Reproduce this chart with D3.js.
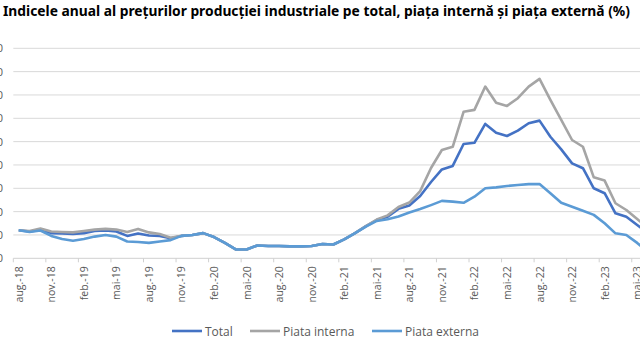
<!DOCTYPE html>
<html lang="ro">
<head>
  <meta charset="UTF-8">
  <title>Indicele anual al preturilor productiei industriale</title>
  <script src="https://d3js.org/d3.v7.min.js"></script>
  <style>
    body { margin: 0; background: #fff; }
    svg { display: block; font-family: "Open Sans", "Liberation Sans", sans-serif; }
    .grid line { stroke: #d9d9d9; stroke-width: 1; }
    .tick-label { fill: #595959; font-size: 10.5px; }
    .legend text { fill: #595959; font-size: 12px; }
    .series { fill: none; stroke-width: 2.6; stroke-linejoin: round; }
  </style>
</head>
<body>
  <svg width="640" height="360"></svg>
  <script>
    // months aug-18 .. jun-23 (last one is cut by the frame)
    const months = [
      "aug.-18","sep.-18","oct.-18","nov.-18","dec.-18",
      "ian.-19","feb.-19","mar.-19","apr.-19","mai-19","iun.-19","iul.-19","aug.-19","sep.-19","oct.-19","nov.-19","dec.-19",
      "ian.-20","feb.-20","mar.-20","apr.-20","mai-20","iun.-20","iul.-20","aug.-20","sep.-20","oct.-20","nov.-20","dec.-20",
      "ian.-21","feb.-21","mar.-21","apr.-21","mai-21","iun.-21","iul.-21","aug.-21","sep.-21","oct.-21","nov.-21","dec.-21",
      "ian.-22","feb.-22","mar.-22","apr.-22","mai-22","iun.-22","iul.-22","aug.-22","sep.-22","oct.-22","nov.-22","dec.-22",
      "ian.-23","feb.-23","mar.-23","apr.-23","mai-23","iun.-23"
    ];

    const total = [
      102.0, 101.5, 102.1, 100.8, 100.6, 100.4, 100.8, 101.7, 101.9, 101.5, 99.6, 100.6, 99.8, 99.6, 98.6, 99.6, 100.0,
      100.8, 99.1, 96.6, 93.8, 93.8, 95.5, 95.3, 95.3, 95.1, 95.1, 95.3, 96.1,
      95.9, 98.1, 100.8, 103.8, 106.4, 107.8, 111.2, 112.6, 116.7, 122.7, 128.1, 129.6,
      139.0, 139.5, 147.6, 143.8, 142.4, 144.7, 147.9, 149.0, 142.1, 136.7, 130.7, 128.6,
      120.0, 117.9, 109.3, 107.8, 104.3, 100.8
    ];

    const internal = [
      102.0, 101.7, 102.8, 101.5, 101.3, 101.1, 101.7, 102.3, 102.6, 102.3, 101.3, 102.6, 101.1, 100.4, 98.8, 99.6, 100.0,
      100.8, 99.1, 96.6, 93.8, 93.8, 95.5, 95.3, 95.3, 95.1, 95.1, 95.3, 96.1,
      95.9, 98.1, 100.8, 103.8, 106.6, 108.4, 112.0, 113.9, 118.8, 128.7, 136.4, 137.8,
      152.8, 153.6, 163.6, 156.7, 155.3, 158.6, 163.6, 166.9, 157.9, 149.3, 140.7, 137.8,
      124.7, 123.3, 113.6, 110.7, 106.8, 103.0
    ];

    const external = [
      102.0, 101.3, 101.9, 99.6, 98.3, 97.5, 98.3, 99.3, 100.0, 99.3, 97.2, 97.0, 96.6, 97.2, 97.8, 99.6, 100.0,
      100.8, 99.1, 96.6, 93.8, 93.8, 95.5, 95.3, 95.3, 95.1, 95.1, 95.3, 96.1,
      95.9, 98.1, 100.8, 103.6, 106.0, 106.7, 107.9, 109.6, 111.1, 112.8, 114.6, 114.3,
      113.8, 116.4, 120.0, 120.4, 121.0, 121.4, 121.8, 121.8, 117.9, 113.8, 112.1, 110.4,
      108.6, 105.0, 100.7, 100.0, 96.6, 92.7
    ];

    const yTicks = [90, 100, 110, 120, 130, 140, 150, 160, 170, 180];

    const series = [
      { name: "Total", values: total, color: "#4472c4" },
      { name: "Piata interna", values: internal, color: "#a5a5a5" },
      { name: "Piata externa", values: external, color: "#5b9bd5" }
    ];

    const svg = d3.select("svg");
    const plotLeft = 13.3, step = 10.85, plotBottom = 258.3, plotTop = 48.3;

    const x = d3.scaleBand()
      .domain(months)
      .range([plotLeft, plotLeft + step * months.length])
      .paddingInner(0).paddingOuter(0);
    const cx = m => x(m) + x.bandwidth() / 2;

    const y = d3.scaleLinear()
      .domain([90, 180])
      .range([plotBottom, plotTop]);

    svg.append("text")
      .attr("x", 3)
      .attr("y", 16)
      .attr("textLength", 627)
      .attr("lengthAdjust", "spacingAndGlyphs")
      .style("font-family", "'Noto Sans', sans-serif")
      .style("font-weight", "bold")
      .style("font-size", "14px")
      .style("fill", "#000")
      .text("Indicele anual al preţurilor producţiei industriale pe total, piaţa internă şi piaţa externă (%)");

    // horizontal gridlines
    svg.append("g").attr("class", "grid")
      .selectAll("line")
      .data(yTicks.slice(1))
      .join("line")
      .attr("x1", plotLeft).attr("x2", 640)
      .attr("y1", d => y(d)).attr("y2", d => y(d));

    // y labels (cut by the left edge in the original)
    svg.append("g")
      .selectAll("text")
      .data(yTicks)
      .join("text")
      .attr("class", "tick-label")
      .attr("x", 3)
      .attr("y", d => y(d) + 4)
      .attr("text-anchor", "end")
      .style("font-size", "11px")
      .text(d => d);

    // x axis
    svg.append("line")
      .attr("x1", plotLeft).attr("x2", 640)
      .attr("y1", plotBottom).attr("y2", plotBottom)
      .attr("stroke", "#d0d0d0");

    const shown = months.filter((m, i) => i % 3 === 0);

    svg.append("g")
      .selectAll("line")
      .data(shown)
      .join("line")
      .attr("x1", d => x(d)).attr("x2", d => x(d))
      .attr("y1", plotBottom).attr("y2", plotBottom + 4)
      .attr("stroke", "#d0d0d0");

    svg.append("g")
      .selectAll("text")
      .data(shown)
      .join("text")
      .attr("class", "tick-label")
      .attr("text-anchor", "end")
      .attr("transform", d => `translate(${cx(d) + 4},${plotBottom + 8}) rotate(-90)`)
      .text(d => d);

    const line = d3.line()
      .x((d, i) => cx(months[i]))
      .y(d => y(d));

    series.forEach(s => {
      svg.append("path")
        .datum(s.values)
        .attr("class", "series")
        .attr("stroke", s.color)
        .attr("d", line);
    });

    // legend
    const legendX = [172, 250, 372];
    const lg = svg.append("g").attr("class", "legend");
    series.forEach((s, i) => {
      const gx = legendX[i];
      lg.append("line")
        .attr("x1", gx).attr("x2", gx + 30)
        .attr("y1", 331).attr("y2", 331)
        .attr("stroke", s.color)
        .attr("stroke-width", 2.6);
      lg.append("text")
        .attr("x", gx + 33)
        .attr("y", 335.5)
        .text(s.name);
    });
  </script>
</body>
</html>
